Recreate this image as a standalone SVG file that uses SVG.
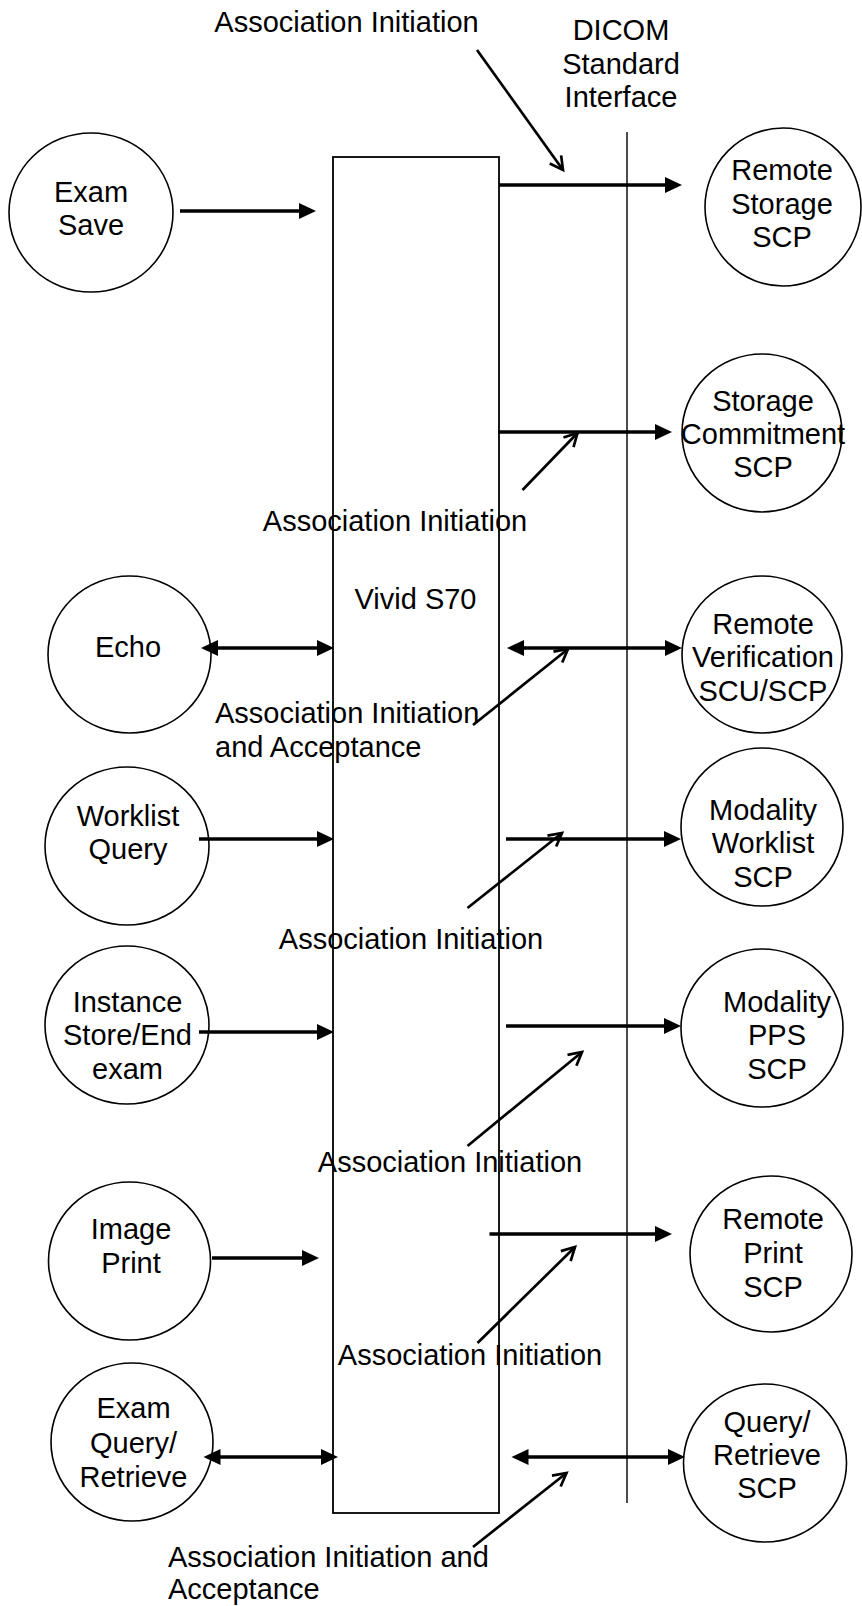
<svg xmlns="http://www.w3.org/2000/svg" width="862" height="1606" viewBox="0 0 862 1606">
<style>
text{font-family:"Liberation Sans",Arial,Helvetica,sans-serif;font-size:29px;fill:#000}
.m{text-anchor:middle}
.node{fill:#fff;stroke:#000;stroke-width:1.6}
.thick{stroke:#000;stroke-width:3.6;fill:none}
.diag{stroke:#000;stroke-width:2.7;fill:none}
.iface{stroke:#000;stroke-width:1.4}
</style>
<defs>
<marker id="tri" markerUnits="userSpaceOnUse" markerWidth="18" markerHeight="18" refX="12" refY="8" orient="auto-start-reverse" viewBox="0 0 18 16">
<path d="M0,0 L17,8 L0,16 Z" fill="#000"/>
</marker>
<marker id="open" markerUnits="userSpaceOnUse" markerWidth="20" markerHeight="20" refX="14" refY="7" orient="auto" viewBox="-2 -2 20 18">
<path d="M1,0 L14,7 L1,14" fill="none" stroke="#000" stroke-width="2.7" stroke-linejoin="miter"/>
</marker>
</defs>
<rect width="862" height="1606" fill="#fff"/>

<g id="vivid">
<rect x="333" y="157" width="166" height="1356" fill="#fff" stroke="#000" stroke-width="1.8"/>
<text class="m" x="415.5" y="609">Vivid S70</text>
</g>

<g id="dicom-interface">
<line class="iface" x1="627" y1="132" x2="627" y2="1503"/>
<text class="m" x="621" y="40">DICOM</text>
<text class="m" x="621" y="73.5">Standard</text>
<text class="m" x="621" y="107">Interface</text>
</g>

<g id="exam-save">
<ellipse class="node" cx="91" cy="212.5" rx="82" ry="79.5"/>
<text class="m" x="91" y="202">Exam</text>
<text class="m" x="91" y="235">Save</text>
</g>
<g id="remote-storage">
<ellipse class="node" cx="783" cy="207" rx="78" ry="79"/>
<text class="m" x="782" y="180">Remote</text>
<text class="m" x="782" y="213.5">Storage</text>
<text class="m" x="782" y="247">SCP</text>
</g>
<g id="storage-commitment">
<ellipse class="node" cx="762" cy="433" rx="80" ry="79"/>
<text class="m" x="763" y="410.5">Storage</text>
<text class="m" x="763" y="444">Commitment</text>
<text class="m" x="763" y="477">SCP</text>
</g>
<g id="echo">
<ellipse class="node" cx="129.5" cy="654.5" rx="81.5" ry="78.5"/>
<text class="m" x="128" y="657">Echo</text>
</g>
<g id="remote-verification">
<ellipse class="node" cx="762" cy="654.5" rx="80" ry="78.5"/>
<text class="m" x="763" y="634">Remote</text>
<text class="m" x="763" y="667">Verification</text>
<text class="m" x="763" y="700.5">SCU/SCP</text>
</g>
<g id="worklist-query">
<ellipse class="node" cx="127" cy="846" rx="82" ry="79"/>
<text class="m" x="128" y="826">Worklist</text>
<text class="m" x="128" y="859">Query</text>
</g>
<g id="modality-worklist">
<ellipse class="node" cx="762" cy="827" rx="81" ry="79"/>
<text class="m" x="763" y="820">Modality</text>
<text class="m" x="763" y="853">Worklist</text>
<text class="m" x="763" y="886.5">SCP</text>
</g>
<g id="instance-store">
<ellipse class="node" cx="127" cy="1025" rx="82" ry="79"/>
<text class="m" x="127.5" y="1011.5">Instance</text>
<text class="m" x="127.5" y="1045">Store/End</text>
<text class="m" x="127.5" y="1079">exam</text>
</g>
<g id="modality-pps">
<ellipse class="node" cx="762" cy="1028" rx="81" ry="79"/>
<text class="m" x="777" y="1011.5">Modality</text>
<text class="m" x="777" y="1045">PPS</text>
<text class="m" x="777" y="1079">SCP</text>
</g>
<g id="image-print">
<ellipse class="node" cx="129.5" cy="1261" rx="81" ry="79"/>
<text class="m" x="131" y="1239">Image</text>
<text class="m" x="131" y="1273">Print</text>
</g>
<g id="remote-print">
<ellipse class="node" cx="771" cy="1254" rx="81" ry="78"/>
<text class="m" x="773" y="1229">Remote</text>
<text class="m" x="773" y="1263">Print</text>
<text class="m" x="773" y="1296.5">SCP</text>
</g>
<g id="exam-query-retrieve">
<ellipse class="node" cx="132" cy="1442" rx="81" ry="79"/>
<text class="m" x="133.5" y="1418">Exam</text>
<text class="m" x="133.5" y="1452.5">Query/</text>
<text class="m" x="133.5" y="1486.5">Retrieve</text>
</g>
<g id="query-retrieve-scp">
<ellipse class="node" cx="765" cy="1463" rx="81.5" ry="79"/>
<text class="m" x="767" y="1431.5">Query/</text>
<text class="m" x="767" y="1465">Retrieve</text>
<text class="m" x="767" y="1498">SCP</text>
</g>

<g id="connectors">
<line class="thick" x1="180" y1="211" x2="311" y2="211" marker-end="url(#tri)"/>
<line class="thick" x1="499" y1="185" x2="677" y2="185" marker-end="url(#tri)"/>
<line class="thick" x1="498" y1="432" x2="667" y2="432" marker-end="url(#tri)"/>
<line class="thick" x1="206" y1="648" x2="329" y2="648" marker-start="url(#tri)" marker-end="url(#tri)"/>
<line class="thick" x1="512" y1="648" x2="677" y2="648" marker-start="url(#tri)" marker-end="url(#tri)"/>
<line class="thick" x1="199" y1="839" x2="329" y2="839" marker-end="url(#tri)"/>
<line class="thick" x1="506" y1="839" x2="676" y2="839" marker-end="url(#tri)"/>
<line class="thick" x1="199" y1="1032" x2="329" y2="1032" marker-end="url(#tri)"/>
<line class="thick" x1="506" y1="1026" x2="676" y2="1026" marker-end="url(#tri)"/>
<line class="thick" x1="212" y1="1258" x2="314" y2="1258" marker-end="url(#tri)"/>
<line class="thick" x1="489.5" y1="1234" x2="667" y2="1234" marker-end="url(#tri)"/>
<line class="thick" x1="208.5" y1="1457" x2="333" y2="1457" marker-start="url(#tri)" marker-end="url(#tri)"/>
<line class="thick" x1="516.5" y1="1457" x2="680" y2="1457" marker-start="url(#tri)" marker-end="url(#tri)"/>

<line class="diag" x1="477" y1="50" x2="563" y2="170" marker-end="url(#open)"/>
<line class="diag" x1="522.5" y1="490" x2="577.5" y2="433" marker-end="url(#open)"/>
<line class="diag" x1="473" y1="725" x2="568" y2="649" marker-end="url(#open)"/>
<line class="diag" x1="467.5" y1="908" x2="562" y2="833" marker-end="url(#open)"/>
<line class="diag" x1="467.5" y1="1146" x2="582" y2="1052" marker-end="url(#open)"/>
<line class="diag" x1="477.5" y1="1343" x2="575" y2="1247" marker-end="url(#open)"/>
<line class="diag" x1="473" y1="1547" x2="566.5" y2="1473" marker-end="url(#open)"/>
</g>

<g id="labels">
<text class="m" x="346.5" y="31.5">Association Initiation</text>
<text class="m" x="395" y="530.5">Association Initiation</text>
<text x="215" y="723">Association Initiation</text>
<text x="215" y="756.5">and Acceptance</text>
<text class="m" x="411" y="949">Association Initiation</text>
<text class="m" x="450" y="1171.5">Association Initiation</text>
<text class="m" x="470" y="1365">Association Initiation</text>
<text x="168" y="1566.5">Association Initiation and</text>
<text x="168" y="1599">Acceptance</text>
</g>
</svg>
